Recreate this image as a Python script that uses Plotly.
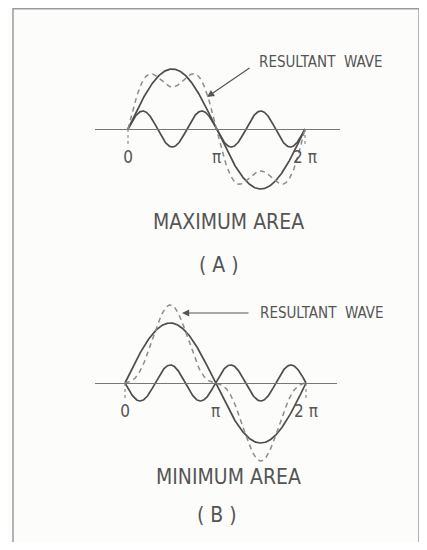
import numpy as np
import plotly.graph_objects as go

# harmonic make-up of the two cases (fundamental + 3rd harmonic)
fund_amp = 1.0
harm_order = 3
harm_amp = 0.3
harm_sign_a = 1     # (A) third harmonic in phase -> flattened, maximum area
harm_sign_b = -1    # (B) third harmonic reversed -> peaked, minimum area
tick_vals = [0, np.pi, 2 * np.pi]
tick_text = ["0", "\u03c0", "2 \u03c0"]

# page body keeps its default 8px margin, so the figure is 16px smaller
W, H = 411, 534
OFF = 8
FONT = "Liberation Sans Narrow, DejaVu Sans Condensed, Roboto, sans-serif"
INK = "#4d4d4d"
DASH = "#8c8c8c"


def px(x):
    return (x - OFF) / W


def py(y):
    return 1 - (y - OFF) / H


theta = np.linspace(0, 2 * np.pi, 400)
fund = fund_amp * np.sin(theta)
harm_a = harm_sign_a * harm_amp * np.sin(harm_order * theta)
harm_b = harm_sign_b * harm_amp * np.sin(harm_order * theta)

fig = go.Figure()

for xa, ya, harm in (("x", "y", harm_a), ("x2", "y2", harm_b)):
    fig.add_trace(go.Scatter(x=theta, y=fund, mode="lines", xaxis=xa, yaxis=ya,
                             line=dict(color=INK, width=1.7)))
    fig.add_trace(go.Scatter(x=theta, y=harm, mode="lines", xaxis=xa, yaxis=ya,
                             line=dict(color=INK, width=1.7)))
    fig.add_trace(go.Scatter(x=theta, y=fund + harm, mode="lines", xaxis=xa, yaxis=ya,
                             line=dict(color=DASH, width=1.5, dash="5px,4px")))
    # short dashed drop lines at 0 and 2 pi
    for t in (tick_vals[0], tick_vals[2]):
        fig.add_trace(go.Scatter(x=[t, t], y=[0, -0.3], mode="lines", xaxis=xa, yaxis=ya,
                                 line=dict(color=DASH, width=1.2, dash="3px,3px")))

# pixel geometry of each panel: axis line ends, x=0 position, px per pi, baseline y
ka = np.pi / 88.5
kb = np.pi / 90.5
axis_common = dict(showgrid=False, zeroline=False, showline=True, linecolor="#777777",
                   linewidth=1.2, ticks="", tickvals=tick_vals, ticktext=tick_text,
                   tickfont=dict(family=FONT, size=17, color="#555555"),
                   anchor="free", ticklabelstandoff=12)
fig.update_layout(
    xaxis=dict(domain=[px(95), px(340)], range=[-33 * ka, 212 * ka], position=py(129), **axis_common),
    yaxis=dict(domain=[py(275), 1], range=[(129 - 275) / 60, (129 - OFF) / 60], visible=False),
    xaxis2=dict(domain=[px(95), px(337)], range=[-30 * kb, 212 * kb], position=py(383), **axis_common),
    yaxis2=dict(domain=[0, py(275)], range=[(383 - 542) / 60, (383 - 275) / 60], visible=False),
)

ann = []
ann.append(dict(x=px(257), y=py(62), xref="paper", yref="paper", xanchor="left", yanchor="middle",
                text="RESULTANT  WAVE", showarrow=False, font=dict(family=FONT, size=15, color="#555555")))
ann.append(dict(x=px(207), y=py(97), xref="paper", yref="paper", ax=44, ay=-30, text="",
                showarrow=True, arrowhead=2, arrowsize=1.2, arrowwidth=1.2, arrowcolor="#555555"))
ann.append(dict(x=px(258), y=py(313), xref="paper", yref="paper", xanchor="left", yanchor="middle",
                text="RESULTANT  WAVE", showarrow=False, font=dict(family=FONT, size=15, color="#555555")))
ann.append(dict(x=px(182), y=py(313), xref="paper", yref="paper", ax=68, ay=0, text="",
                showarrow=True, arrowhead=2, arrowsize=1.2, arrowwidth=1.2, arrowcolor="#555555"))
for txt, x, y in (("MAXIMUM AREA", 228, 222), ("( A )", 219, 265),
                  ("MINIMUM AREA", 228, 477), ("( B )", 217, 515)):
    ann.append(dict(x=px(x), y=py(y), xref="paper", yref="paper", xanchor="center", yanchor="middle",
                    text=txt, showarrow=False, font=dict(family=FONT, size=21, color="#555555")))

fig.update_layout(
    width=W, height=H, margin=dict(l=0, r=0, t=0, b=0),
    paper_bgcolor="#fcfcfa", plot_bgcolor="rgba(0,0,0,0)",
    showlegend=False, annotations=ann,
    # frame runs off the bottom of the page, as in the scan
    shapes=[dict(type="rect", xref="paper", yref="paper", x0=px(13), x1=px(419), y0=py(570), y1=py(8.8),
                 line=dict(color="#9a9a9a", width=1.5))],
)

fig.write_html("out.html")
